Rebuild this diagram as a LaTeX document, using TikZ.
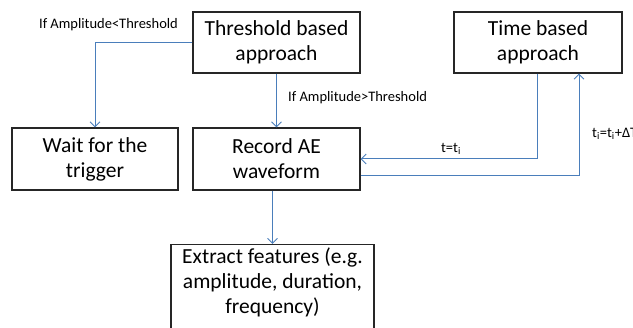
\documentclass[tikz,border=0pt]{standalone}
\usepackage{fontspec}
\setmainfont{Carlito}
\usetikzlibrary{arrows.meta}
\definecolor{lineblue}{HTML}{4A7EBB}
\begin{document}
\begin{tikzpicture}[x=1pt,y=-1pt,
  box/.style={draw=black!85,line width=1.1pt,align=center,inner sep=0pt,
    font=\fontsize{21.5}{25}\selectfont},
  txt/.style={align=center,inner sep=0pt,font=\fontsize{21.5}{25}\selectfont},
  lbl/.style={inner sep=0pt,font=\fontsize{14.5}{16}\selectfont},
  arr/.style={draw=lineblue,line width=1pt,-{Straight Barb[length=5pt,width=10pt,line width=0.9pt]}},
  ln/.style={draw=lineblue,line width=1pt}]
\clip (0,0) rectangle (633,328);
\fill[white] (0,0) rectangle (633,328);
\node[box,minimum width=167pt,minimum height=61pt] (thr) at (276.5,42.5) {Threshold based\\approach};
\node[box,minimum width=168pt,minimum height=61pt] (time) at (538,42.5) {Time based\\approach};
\node[box,minimum width=166pt,minimum height=62pt] (wait) at (95,159) {Wait for the\\trigger};
\node[box,minimum width=167pt,minimum height=62pt] (rec) at (276.5,159) {Record AE\\waveform};
\node[box,minimum width=203pt,minimum height=100pt,anchor=north] (ext) at (272.5,244) {};
\node[txt] (extt) at (272.5,282) {Extract features (e.g.\\amplitude, duration,\\frequency)};
\draw[arr] (thr.west) -| (wait.north);
\draw[arr] (thr.south) -- (rec.north);
\draw[arr] (rec.south -| ext.north) -- (ext.north);
\draw[arr] ([xshift=-1pt]time.south) |- (rec.east);
\draw[arr] ([yshift=-17pt]rec.east) -| ([xshift=41pt]time.south);
\node[lbl] (l1) at (108.5,25) {If Amplitude<Threshold};
\node[lbl,anchor=west] (l2) at (288,98) {If Amplitude>Threshold};
\node[lbl] (l3) at (451,149) {t=t\textsubscript{i}};
\node[lbl,anchor=west] (l4) at (592,134) {t\textsubscript{i}=t\textsubscript{i}+ΔT};
\end{tikzpicture}
\end{document}
